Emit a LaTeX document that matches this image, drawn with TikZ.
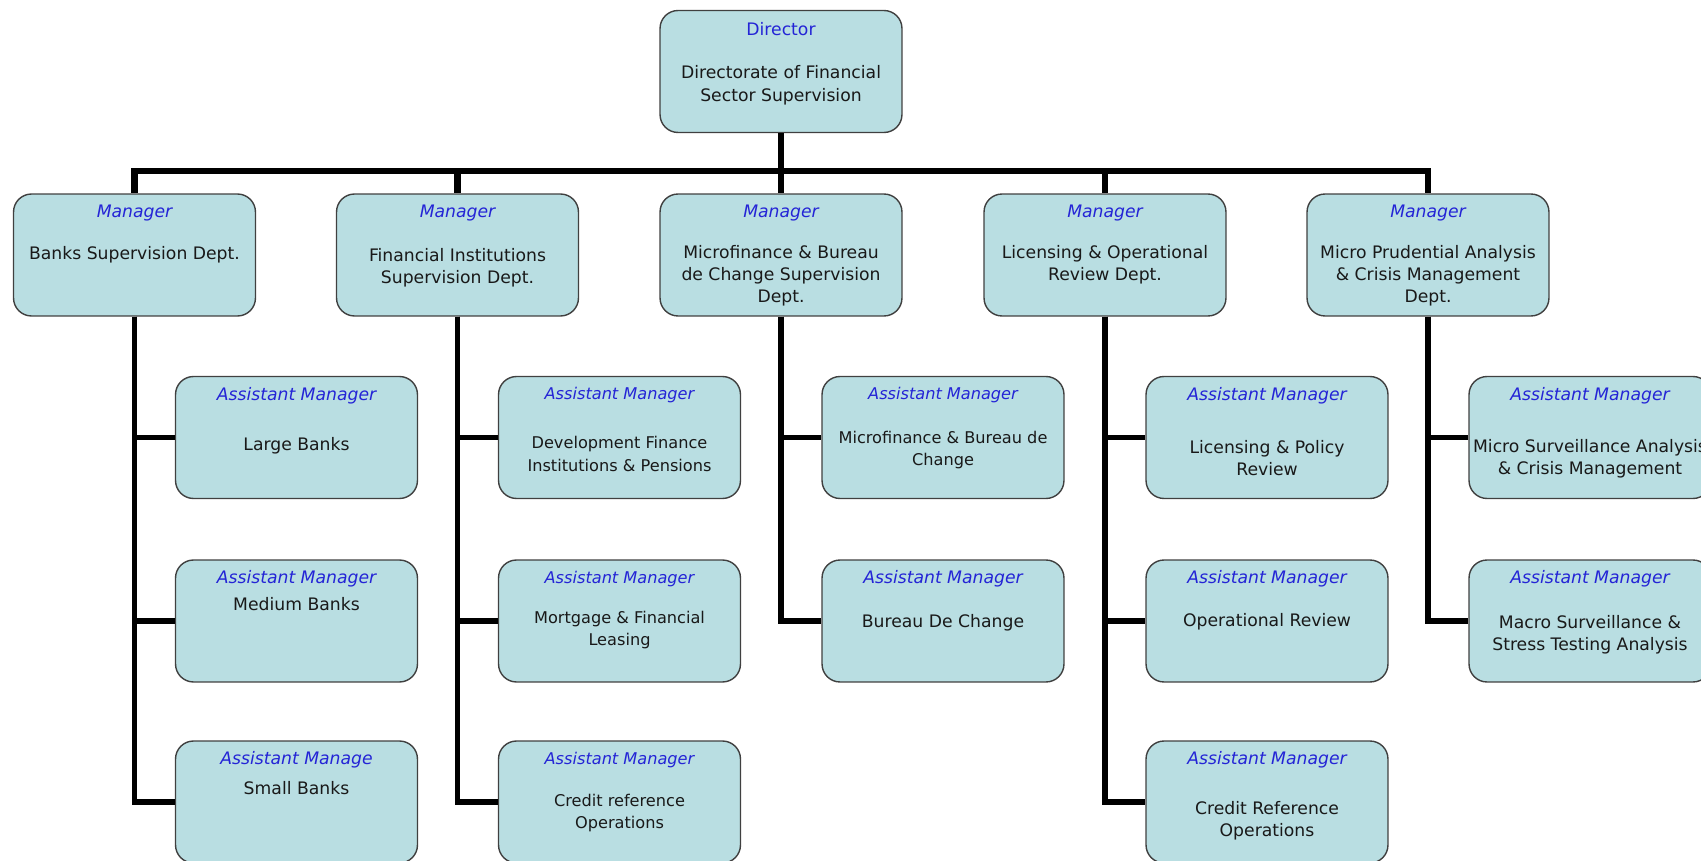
\documentclass[tikz,border=0pt]{standalone}
\usepackage{fontspec}
\setmainfont{DejaVu Sans}
\usepackage{tikz}
\usetikzlibrary{positioning,calc}
\definecolor{boxfill}{RGB}{185,222,226}
\definecolor{rolecolor}{RGB}{36,36,214}
\tikzset{
    unit box/.style={draw=black!75,line width=0.8pt,fill=boxfill,rounded corners=0.36cm,
        minimum width=4.84cm,minimum height=2.44cm,inner sep=0pt},
    role/.style={text=rolecolor,inner sep=0pt,font=\fontsize{9.8}{12}\selectfont\itshape},
    dept/.style={text=black!90,align=center,inner sep=0pt},
    link/.style={line width=3.1pt},
    trunk/.style={line width=3.8pt},
}
\begin{document}
\begin{tikzpicture}[x=0.02cm,y=-0.02cm]
    \useasboundingbox (0,0) rectangle (1701,861);
    \clip (0,0) rectangle (1701,861);
    % director
    \node[unit box] (dir) at (781,71.5) {};
    \node[role,font=\fontsize{9.8}{12}\selectfont] (dir-role) at ($(dir)+(0,-42)$) {Director};
    \node[dept,font=\fontsize{9.8}{13}\selectfont] (dir-dept) at ($(dir)+(0,14)$)
        {Directorate of Financial\\Sector Supervision};
    \coordinate (bus) at (781,171);
    % managers
    \foreach \n/\x/\dy/\txt in {
        1/134.5/0/{Banks Supervision Dept.},
        2/457.5/13/{Financial Institutions\\Supervision Dept.},
        3/781/21/{Microfinance \& Bureau\\de Change Supervision\\Dept.},
        4/1105/9.5/{Licensing \& Operational\\Review Dept.},
        5/1428/21/{Micro Prudential Analysis\\\& Crisis Management\\Dept.}}{
        \node[unit box] (m\n) at (\x,255) {};
        \node[role] (m\n-role) at ($(m\n)+(0,-42)$) {Manager};
        \node[dept,font=\fontsize{9.8}{12.6}\selectfont] (m\n-dept) at ($(m\n)+(0,\dy)$) {\txt};
        \draw[trunk] (dir.south) -- (bus) -| (m\n.north);
    }
    % assistant managers
    \foreach \c/\r/\y/\dy/\fs/\ttl/\txt in {
        1/1/437.5/8.5/9.8/{Assistant Manager}/{Large Banks},
        1/2/621/-17/9.8/{Assistant Manager}/{Medium Banks},
        1/3/802/-14/9.8/{Assistant Manage}/{Small Banks},
        2/1/437.5/16.5/9.2/{Assistant Manager}/{Development Finance\\Institutions \& Pensions},
        2/2/621/9/9.2/{Assistant Manager}/{Mortgage \& Financial\\Leasing},
        2/3/802/11/9.2/{Assistant Manager}/{Credit reference\\Operations},
        3/1/437.5/12.5/9.2/{Assistant Manager}/{Microfinance \& Bureau de\\Change},
        3/2/621/2/9.8/{Assistant Manager}/{Bureau De Change},
        4/1/437.5/21/9.8/{Assistant Manager}/{Licensing \& Policy\\Review},
        4/2/621/1/9.8/{Assistant Manager}/{Operational Review},
        4/3/802/19/9.8/{Assistant Manager}/{Credit Reference\\Operations},
        5/1/437.5/21/9.8/{Assistant Manager}/{Micro Surveillance Analysis\\\& Crisis Management},
        5/2/621/14/9.8/{Assistant Manager}/{Macro Surveillance \&\\Stress Testing Analysis}}{
        \node[unit box] (a\c-\r) at ($(m\c |- 0,\y)+(162,0)$) {};
        \node[role,font=\fontsize{\fs}{12}\selectfont\itshape] (a\c-\r-role) at ($(a\c-\r)+(0,-42)$) {\ttl};
        \node[dept,font=\fontsize{\fs}{12.6}\selectfont] (a\c-\r-dept) at ($(a\c-\r)+(0,\dy)$) {\txt};
        \draw[link] (m\c.south) |- (a\c-\r.west);
    }
\end{tikzpicture}
\end{document}
